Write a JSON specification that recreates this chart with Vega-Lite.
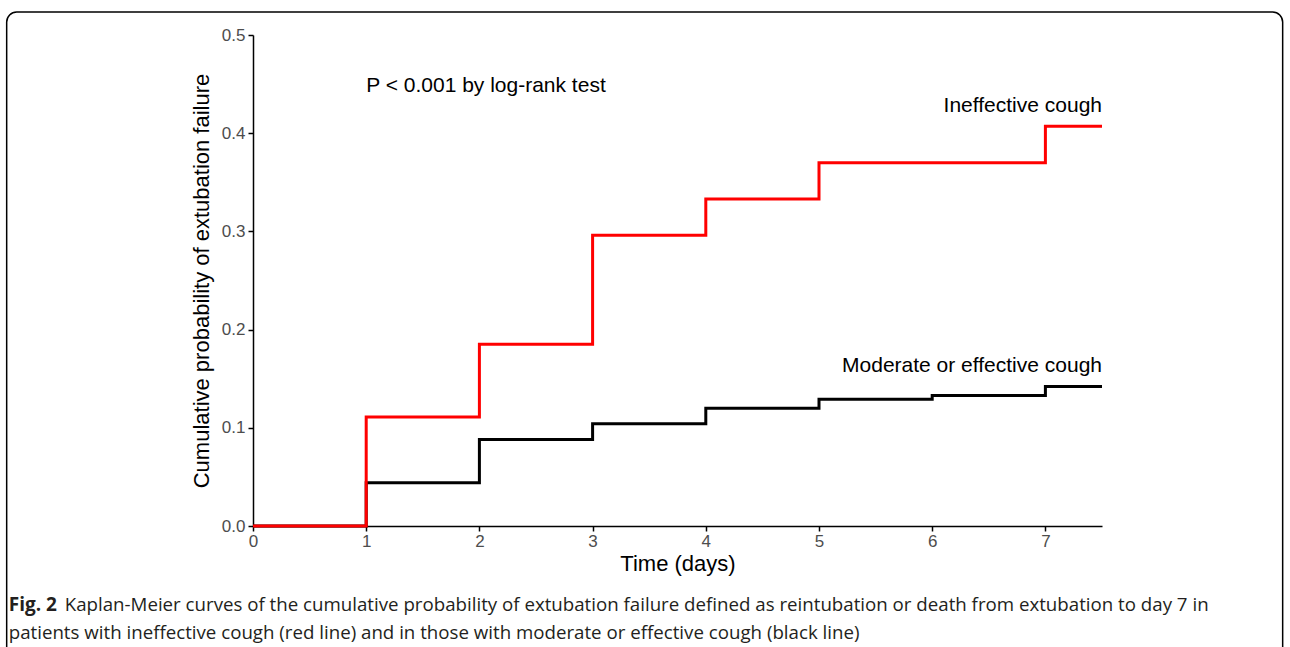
{
  "$schema": "https://vega.github.io/schema/vega-lite/v6.json",
  "width": 849,
  "height": 491,
  "autosize": {"type": "none"},
  "padding": {"left": 253, "top": 35, "right": 188, "bottom": 121},
  "background": "white",
  "config": {
    "view": {"stroke": null},
    "font": "Liberation Sans",
    "axis": {
      "grid": false,
      "domainColor": "black",
      "domainWidth": 1.5,
      "tickColor": "black",
      "tickWidth": 1.5,
      "tickSize": 5,
      "labelFlush": false,
      "labelColor": "#4d4d4d",
      "labelFont": "Liberation Sans",
      "labelFontSize": 17,
      "titleFont": "Liberation Sans",
      "titleFontSize": 22,
      "titleFontWeight": "normal",
      "titleColor": "black"
    }
  },
  "datasets": {
    "km": [
      {"group": "Moderate or effective cough", "time": 0, "prob": 0},
      {"group": "Moderate or effective cough", "time": 1, "prob": 0.044},
      {"group": "Moderate or effective cough", "time": 2, "prob": 0.088},
      {"group": "Moderate or effective cough", "time": 3, "prob": 0.104},
      {"group": "Moderate or effective cough", "time": 4, "prob": 0.12},
      {"group": "Moderate or effective cough", "time": 5, "prob": 0.129},
      {"group": "Moderate or effective cough", "time": 6, "prob": 0.133},
      {"group": "Moderate or effective cough", "time": 7, "prob": 0.142},
      {"group": "Moderate or effective cough", "time": 7.5, "prob": 0.142},
      {"group": "Ineffective cough", "time": 0, "prob": 0},
      {"group": "Ineffective cough", "time": 1, "prob": 0.111},
      {"group": "Ineffective cough", "time": 2, "prob": 0.185},
      {"group": "Ineffective cough", "time": 3, "prob": 0.296},
      {"group": "Ineffective cough", "time": 4, "prob": 0.333},
      {"group": "Ineffective cough", "time": 5, "prob": 0.370},
      {"group": "Ineffective cough", "time": 7, "prob": 0.407},
      {"group": "Ineffective cough", "time": 7.5, "prob": 0.407}
    ],
    "labels": [
      {"text": "Ineffective cough", "time": 7.5, "prob": 0.4216},
      {"text": "Moderate or effective cough", "time": 7.5, "prob": 0.157}
    ],
    "ptext": [
      {"text": "P < 0.001 by log-rank test", "time": 1.0, "prob": 0.442}
    ],
    "capbold": [
      {"text": "Fig. 2", "time": -2.158, "prob": -0.0866}
    ],
    "capnorm": [
      {"text": "Kaplan-Meier curves of the cumulative probability of extubation failure defined as reintubation or death from extubation to day 7 in", "time": -1.663, "prob": -0.0866},
      {"text": "patients with ineffective cough (red line) and in those with moderate or effective cough (black line)", "time": -2.158, "prob": -0.115}
    ]
  },
  "layer": [
    {
      "data": {"values": [{"k": 1}]},
      "mark": {"type": "rect", "fill": null, "stroke": "black", "strokeWidth": 1.5, "cornerRadius": 10},
      "encoding": {
        "x": {"datum": -2.176, "type": "quantitative"},
        "x2": {"datum": 9.096},
        "y": {"datum": 0.5234, "type": "quantitative"},
        "y2": {"datum": -0.1365}
      }
    },
    {
      "data": {"name": "km"},
      "transform": [{"filter": "datum.group === 'Moderate or effective cough'"}],
      "mark": {"type": "line", "interpolate": "step-after", "color": "black", "strokeWidth": 3},
      "encoding": {
        "x": {
          "field": "time", "type": "quantitative", "title": "Time (days)",
          "scale": {"domain": [0, 7.5], "nice": false, "zero": false},
          "axis": {"values": [0, 1, 2, 3, 4, 5, 6, 7], "format": "d", "labelPadding": 2, "titlePadding": 4}
        },
        "y": {
          "field": "prob", "type": "quantitative", "title": "Cumulative probability of extubation failure",
          "scale": {"domain": [0, 0.5], "nice": false},
          "axis": {"values": [0, 0.1, 0.2, 0.3, 0.4, 0.5], "format": ".1f", "labelPadding": 3, "titlePadding": 8}
        }
      }
    },
    {
      "data": {"name": "km"},
      "transform": [{"filter": "datum.group === 'Ineffective cough'"}],
      "mark": {"type": "line", "interpolate": "step-after", "color": "#ff0000", "strokeWidth": 3},
      "encoding": {
        "x": {"field": "time", "type": "quantitative"},
        "y": {"field": "prob", "type": "quantitative"}
      }
    },
    {
      "data": {"name": "labels"},
      "mark": {"type": "text", "align": "right", "baseline": "alphabetic", "fontSize": 21, "font": "Liberation Sans", "color": "black"},
      "encoding": {
        "x": {"field": "time", "type": "quantitative"},
        "y": {"field": "prob", "type": "quantitative"},
        "text": {"field": "text"}
      }
    },
    {
      "data": {"name": "ptext"},
      "mark": {"type": "text", "align": "left", "baseline": "alphabetic", "fontSize": 21, "font": "Liberation Sans", "color": "black"},
      "encoding": {
        "x": {"field": "time", "type": "quantitative"},
        "y": {"field": "prob", "type": "quantitative"},
        "text": {"field": "text"}
      }
    },
    {
      "data": {"name": "capbold"},
      "mark": {"type": "text", "align": "left", "baseline": "alphabetic", "fontSize": 19, "font": "Open Sans", "fontWeight": "bold", "color": "#231f20"},
      "encoding": {
        "x": {"field": "time", "type": "quantitative"},
        "y": {"field": "prob", "type": "quantitative"},
        "text": {"field": "text"}
      }
    },
    {
      "data": {"name": "capnorm"},
      "mark": {"type": "text", "align": "left", "baseline": "alphabetic", "fontSize": 18.7, "font": "Open Sans", "color": "#231f20"},
      "encoding": {
        "x": {"field": "time", "type": "quantitative"},
        "y": {"field": "prob", "type": "quantitative"},
        "text": {"field": "text"}
      }
    }
  ]
}
